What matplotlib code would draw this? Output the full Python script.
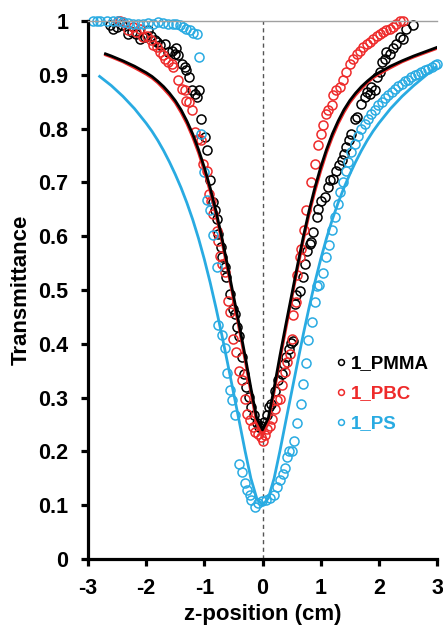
import matplotlib
matplotlib.use("Agg")
import matplotlib.pyplot as plt

# measured data (z in cm, normalised transmittance)
pmma_z = [-2.62, -2.57, -2.51, -2.42, -2.31, -2.25, -2.17, -2.11, -2.02, -1.97, -1.91, -1.85, -1.82,
          -1.77, -1.68, -1.62, -1.56, -1.51, -1.49, -1.45, -1.39, -1.34, -1.31, -1.26, -1.22, -1.16,
          -1.12, -1.09, -1.05, -0.99, -0.95, -0.91, -0.85, -0.82, -0.79, -0.76, -0.72, -0.69, -0.65,
          -0.62, -0.56, -0.50, -0.48, -0.44, -0.40, -0.36, -0.32, -0.28, -0.23, -0.19, -0.15, -0.10,
          -0.06, -0.02, 0.02, 0.07, 0.11, 0.15, 0.21, 0.27, 0.33, 0.37, 0.41, 0.46, 0.49, 0.52, 0.56,
          0.58, 0.64, 0.70, 0.73, 0.76, 0.81, 0.84, 0.87, 0.93, 0.96, 1.01, 1.07, 1.13, 1.16, 1.21,
          1.27, 1.32, 1.36, 1.40, 1.44, 1.49, 1.53, 1.59, 1.63, 1.70, 1.76, 1.79, 1.85, 1.87, 1.93,
          1.96, 2.02, 2.05, 2.10, 2.13, 2.19, 2.25, 2.30, 2.36, 2.42, 2.46, 2.59]
pmma_t = [0.992, 0.986, 0.989, 0.992, 0.976, 0.980, 0.976, 0.967, 0.970, 0.983, 0.973, 0.964, 0.961,
          0.955, 0.958, 0.942, 0.945, 0.939, 0.949, 0.936, 0.921, 0.914, 0.908, 0.896, 0.871, 0.865,
          0.859, 0.871, 0.818, 0.784, 0.760, 0.704, 0.663, 0.648, 0.632, 0.604, 0.580, 0.561, 0.542,
          0.524, 0.493, 0.465, 0.456, 0.431, 0.415, 0.375, 0.344, 0.320, 0.301, 0.282, 0.267, 0.253,
          0.245, 0.248, 0.254, 0.267, 0.282, 0.289, 0.313, 0.332, 0.344, 0.363, 0.375, 0.390, 0.401,
          0.406, 0.474, 0.490, 0.499, 0.524, 0.549, 0.573, 0.586, 0.589, 0.608, 0.635, 0.651, 0.666,
          0.673, 0.691, 0.704, 0.707, 0.722, 0.732, 0.741, 0.753, 0.766, 0.778, 0.790, 0.818, 0.821,
          0.846, 0.859, 0.868, 0.865, 0.877, 0.871, 0.896, 0.905, 0.924, 0.930, 0.942, 0.939, 0.949,
          0.958, 0.970, 0.967, 0.986, 0.992]

pbc_z = [-2.48, -2.45, -2.40, -2.31, -2.22, -2.17, -2.11, -2.05, -1.99, -1.91, -1.88, -1.82, -1.77,
         -1.71, -1.68, -1.62, -1.56, -1.54, -1.45, -1.39, -1.34, -1.31, -1.26, -1.22, -1.16, -1.11,
         -1.05, -1.02, -0.96, -0.92, -0.88, -0.85, -0.79, -0.76, -0.73, -0.69, -0.65, -0.59, -0.56,
         -0.50, -0.45, -0.40, -0.35, -0.30, -0.26, -0.22, -0.17, -0.13, -0.07, -0.02, 0.01, 0.04,
         0.08, 0.13, 0.17, 0.21, 0.25, 0.30, 0.34, 0.38, 0.42, 0.47, 0.50, 0.53, 0.57, 0.60, 0.64,
         0.67, 0.71, 0.74, 0.84, 0.90, 0.96, 1.00, 1.04, 1.09, 1.13, 1.19, 1.21, 1.27, 1.33, 1.39,
         1.44, 1.50, 1.56, 1.62, 1.67, 1.73, 1.79, 1.85, 1.90, 1.96, 2.02, 2.07, 2.13, 2.19, 2.25,
         2.30, 2.36, 2.42]
pbc_t = [1.000, 1.000, 0.998, 0.983, 0.989, 0.980, 0.986, 0.970, 0.973, 0.964, 0.955, 0.952, 0.942,
         0.936, 0.930, 0.924, 0.921, 0.914, 0.890, 0.874, 0.871, 0.852, 0.849, 0.834, 0.794, 0.781,
         0.778, 0.735, 0.722, 0.679, 0.666, 0.642, 0.610, 0.592, 0.564, 0.549, 0.533, 0.480, 0.459,
         0.409, 0.384, 0.350, 0.332, 0.298, 0.270, 0.258, 0.245, 0.236, 0.233, 0.227, 0.220, 0.230,
         0.242, 0.248, 0.261, 0.279, 0.295, 0.298, 0.323, 0.348, 0.366, 0.381, 0.409, 0.454, 0.477,
         0.527, 0.561, 0.577, 0.611, 0.648, 0.701, 0.735, 0.769, 0.790, 0.806, 0.828, 0.834, 0.843,
         0.862, 0.871, 0.877, 0.890, 0.905, 0.921, 0.930, 0.939, 0.945, 0.952, 0.958, 0.961, 0.967,
         0.973, 0.976, 0.980, 0.983, 0.986, 0.989, 0.995, 1.000, 1.000]

ps_z = [-2.91, -2.85, -2.80, -2.68, -2.57, -2.48, -2.40, -2.31, -2.22, -2.14, -2.05, -1.97, -1.88,
        -1.79, -1.71, -1.62, -1.54, -1.48, -1.42, -1.36, -1.31, -1.25, -1.19, -1.13, -1.09, -1.05,
        -1.01, -0.95, -0.90, -0.85, -0.79, -0.76, -0.70, -0.645, -0.605, -0.56, -0.53, -0.47, -0.40,
        -0.36, -0.30, -0.26, -0.21, -0.19, -0.13, -0.07, -0.01, 0.06, 0.13, 0.19, 0.25, 0.30, 0.36,
        0.39, 0.42, 0.46, 0.50, 0.54, 0.60, 0.66, 0.70, 0.75, 0.79, 0.85, 0.90, 0.94, 0.97, 1.045,
        1.10, 1.15, 1.19, 1.24, 1.30, 1.34, 1.39, 1.44, 1.47, 1.53, 1.59, 1.64, 1.70, 1.76, 1.82,
        1.87, 1.93, 1.99, 2.05, 2.10, 2.16, 2.22, 2.28, 2.33, 2.39, 2.45, 2.50, 2.56, 2.62, 2.68,
        2.73, 2.79, 2.85, 2.91, 2.96, 3.00]
ps_t = [1.000, 1.000, 1.000, 1.000, 1.000, 1.000, 0.998, 0.996, 0.995, 0.995, 0.994, 0.996, 0.995,
        0.998, 0.996, 0.995, 0.995, 0.994, 0.992, 0.989, 0.986, 0.983, 0.978, 0.976, 0.934, 0.790,
        0.720, 0.667, 0.649, 0.602, 0.543, 0.435, 0.416, 0.392, 0.345, 0.314, 0.296, 0.268, 0.177,
        0.162, 0.142, 0.128, 0.119, 0.110, 0.097, 0.104, 0.107, 0.110, 0.113, 0.119, 0.133, 0.146,
        0.158, 0.169, 0.190, 0.200, 0.200, 0.220, 0.253, 0.289, 0.325, 0.364, 0.407, 0.441, 0.478,
        0.507, 0.509, 0.531, 0.561, 0.583, 0.611, 0.635, 0.660, 0.682, 0.700, 0.722, 0.738, 0.756,
        0.772, 0.787, 0.800, 0.809, 0.818, 0.828, 0.835, 0.843, 0.849, 0.856, 0.862, 0.868, 0.874,
        0.879, 0.883, 0.888, 0.891, 0.896, 0.899, 0.902, 0.905, 0.908, 0.911, 0.914, 0.919, 0.920]

# fitted curves
fit_z = [-2.7, -2.6, -2.4, -2.2, -2.0, -1.9, -1.8, -1.7, -1.6, -1.5, -1.4, -1.3, -1.2, -1.1, -1.0,
         -0.9, -0.8, -0.7, -0.6, -0.5, -0.4, -0.3, -0.2, -0.1, 0.0, 0.1, 0.2, 0.3, 0.4, 0.5, 0.6,
         0.7, 0.8, 0.9, 1.0, 1.1, 1.2, 1.3, 1.4, 1.5, 1.6, 1.7, 1.8, 1.9, 2.0, 2.2, 2.4, 2.6, 2.8, 3.0]
pmma_fit = [0.939, 0.935, 0.926, 0.916, 0.904, 0.897, 0.888, 0.878, 0.866, 0.852, 0.835, 0.814,
            0.790, 0.761, 0.728, 0.690, 0.647, 0.598, 0.545, 0.490, 0.435, 0.378, 0.318, 0.262,
            0.240, 0.262, 0.318, 0.378, 0.435, 0.490, 0.545, 0.598, 0.647, 0.690, 0.728, 0.761,
            0.790, 0.814, 0.835, 0.852, 0.866, 0.878, 0.888, 0.897, 0.904, 0.916, 0.926, 0.935,
            0.943, 0.951]
pbc_fit = [0.937, 0.933, 0.924, 0.913, 0.901, 0.894, 0.885, 0.874, 0.862, 0.848, 0.830, 0.809,
           0.784, 0.755, 0.721, 0.683, 0.640, 0.591, 0.538, 0.483, 0.427, 0.370, 0.310, 0.253,
           0.230, 0.253, 0.310, 0.370, 0.427, 0.483, 0.538, 0.591, 0.640, 0.683, 0.721, 0.755,
           0.784, 0.809, 0.830, 0.848, 0.862, 0.874, 0.885, 0.894, 0.901, 0.913, 0.924, 0.933,
           0.941, 0.949]
ps_fit_z = [-2.8, -2.6, -2.4, -2.2, -2.0, -1.9, -1.8, -1.7, -1.6, -1.5, -1.4, -1.3, -1.2, -1.1, -1.0,
            -0.9, -0.8, -0.7, -0.6, -0.5, -0.4, -0.3, -0.2, -0.1, 0.0, 0.1, 0.2, 0.3, 0.4, 0.5, 0.6,
            0.7, 0.8, 0.9, 1.0, 1.1, 1.2, 1.3, 1.4, 1.5, 1.6, 1.7, 1.8, 1.9, 2.0, 2.2, 2.4, 2.6, 2.8,
            3.0]
ps_fit = [0.897, 0.880, 0.860, 0.837, 0.810, 0.795, 0.778, 0.759, 0.738, 0.715, 0.690, 0.662,
          0.631, 0.596, 0.557, 0.514, 0.467, 0.417, 0.364, 0.310, 0.256, 0.201, 0.150, 0.113,
          0.100, 0.113, 0.150, 0.201, 0.256, 0.310, 0.364, 0.417, 0.467, 0.514, 0.557, 0.596,
          0.631, 0.662, 0.690, 0.715, 0.738, 0.759, 0.778, 0.795, 0.810, 0.837, 0.860, 0.880,
          0.898, 0.916]

black = "black"
red = "#ee2a2a"
blue = "#29abe2"

plt.rcParams["font.family"] = ["Liberation Sans", "DejaVu Sans"]
plt.rcParams["font.weight"] = "bold"
plt.rcParams["axes.unicode_minus"] = False

fig = plt.figure(figsize=(4.43, 6.26), dpi=100)
ax = fig.add_axes([88 / 443, 67 / 626, 349 / 443, 538 / 626])

mk = dict(marker="o", ls="none", ms=6.5, mfc="none", mew=1.1, clip_on=False)
ax.plot(pmma_z, pmma_t, mec=black, label="1_PMMA", **mk)
ax.plot(pbc_z, pbc_t, mec=red, label="1_PBC", **mk)
ax.plot(ps_z, ps_t, mec=blue, label="1_PS", **mk)

ax.plot(fit_z, pbc_fit, color=red, lw=2.0)
ax.plot(fit_z, pmma_fit, color=black, lw=2.0)
ax.plot(ps_fit_z, ps_fit, color=blue, lw=2.0)

ax.axvline(0, color="#555555", lw=1.0, ls=(0, (3, 2.5)), zorder=0)

ax.set_xlim(-3, 3)
ax.set_ylim(0, 1)
ax.set_xticks([-3, -2, -1, 0, 1, 2, 3])
ax.set_yticks([i / 10 for i in range(11)])
ax.set_yticklabels(["0", "0.1", "0.2", "0.3", "0.4", "0.5", "0.6", "0.7", "0.8", "0.9", "1"])

for s in ["left", "bottom"]:
    ax.spines[s].set_linewidth(2.3)
ax.spines["right"].set_visible(False)
ax.spines["top"].set_color("#a0a0a0")
ax.spines["top"].set_linewidth(1.0)
ax.tick_params(direction="out", length=5, width=2.3, labelsize=15.5, pad=9)
ax.tick_params(top=False, right=False)

ax.set_xlabel("z-position (cm)", fontsize=16, fontweight="bold", labelpad=3)
ax.set_ylabel("Transmittance", fontsize=16, fontweight="bold", labelpad=5)

leg = ax.legend(loc="center left", bbox_to_anchor=(0.685, 0.307), frameon=False,
                fontsize=13.5, markerscale=0.65, handlelength=0.5, handletextpad=0.25,
                labelspacing=0.68, borderpad=0)
for txt, c in zip(leg.get_texts(), [black, red, blue]):
    txt.set_color(c)
    txt.set_fontweight("bold")

fig.savefig("out.png", dpi=100)
